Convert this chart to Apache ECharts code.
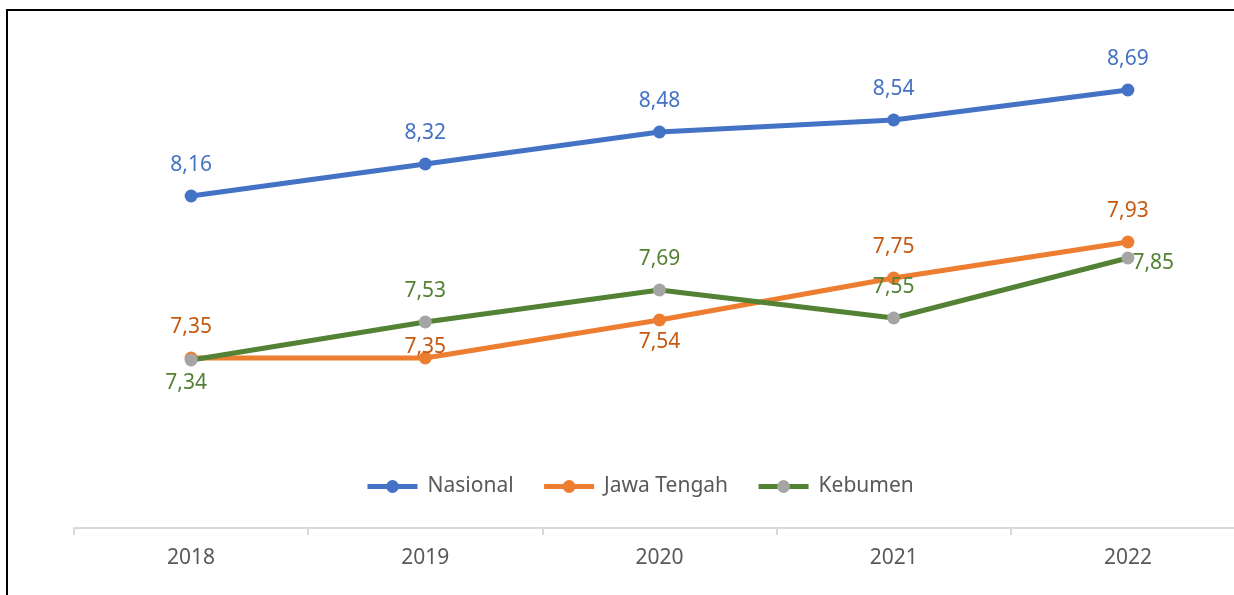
<!DOCTYPE html>
<html>
<head>
<meta charset="utf-8">
<style>
  html, body { margin: 0; padding: 0; background: #fff; overflow: hidden; }
  body { width: 1234px; height: 595px; }
  #chart { width: 1245px; height: 595px; }
</style>
<script src="https://cdn.jsdelivr.net/npm/echarts@6/dist/echarts.min.js"></script>
</head>
<body>
<div id="chart"></div>
<script>
// data
const years = ['2018', '2019', '2020', '2021', '2022']
const nasional = [8.16, 8.32, 8.48, 8.54, 8.69]
const jawaTengah = [7.35, 7.35, 7.54, 7.75, 7.93]
const kebumen = [7.34, 7.53, 7.69, 7.55, 7.85]

const FONT = '"Noto Sans", "Open Sans", sans-serif'

// label overrides per point (index -> label options)
const jatengLabels = {
  1: { offset: [0, 20] },
  2: { position: 'bottom', distance: 5 }
}
const kebumenLabels = {
  0: { position: 'bottom', distance: 6, offset: [-5, 0] },
  4: { position: 'right', distance: 6, offset: [-8, 5] }
}

function fmt(p) {
  return p.value.toFixed(2).replace('.', ',')
}

function buildData(values, overrides) {
  return values.map((v, i) => overrides && overrides[i] ? { value: v, label: overrides[i] } : v)
}

function lineSeries(name, values, lineColor, markColor, labelColor, overrides) {
  return {
    name: name,
    type: 'line',
    data: buildData(values, overrides),
    symbol: 'circle',
    symbolSize: 13,
    lineStyle: { color: lineColor, width: 5 },
    itemStyle: { color: markColor },
    label: {
      show: true,
      position: 'top',
      distance: 14,
      color: labelColor,
      fontSize: 21,
      fontFamily: FONT,
      formatter: fmt
    },
    emphasis: { disabled: true },
    animation: false
  }
}

const chart = echarts.init(document.getElementById('chart'))
chart.setOption({
  backgroundColor: '#fff',
  grid: { left: 74, right: 0, top: 28, bottom: 67 },
  legend: {
    top: 471,
    left: 360,
    itemWidth: 50,
    itemHeight: 16,
    itemGap: 28,
    lineStyle: { width: 5 },
    textStyle: { color: '#595959', fontSize: 21, fontFamily: FONT, padding: [0, 0, 0, 5] },
    data: ['Nasional', 'Jawa Tengah', 'Kebumen']
  },
  xAxis: {
    type: 'category',
    data: years,
    boundaryGap: true,
    axisLine: { lineStyle: { color: '#d9d9d9', width: 2 } },
    axisTick: { show: true, length: 7, lineStyle: { color: '#d9d9d9', width: 2 } },
    axisLabel: { color: '#595959', fontSize: 21, fontFamily: FONT, margin: 20 },
    splitLine: { show: false }
  },
  yAxis: {
    type: 'value',
    min: 6.5,
    max: 9,
    show: false,
    splitLine: { show: false }
  },
  graphic: [{
    type: 'polyline',
    shape: { points: [[7, 595], [7, 10], [1245, 10]] },
    style: { stroke: '#000', lineWidth: 2, fill: null },
    silent: true
  }],
  series: [
    lineSeries('Nasional', nasional, '#4472C4', '#4472C4', '#4472C4'),
    lineSeries('Jawa Tengah', jawaTengah, '#ED7D31', '#ED7D31', '#C55A11', jatengLabels),
    lineSeries('Kebumen', kebumen, '#548235', '#A5A5A5', '#548235', kebumenLabels)
  ]
})
</script>
</body>
</html>
